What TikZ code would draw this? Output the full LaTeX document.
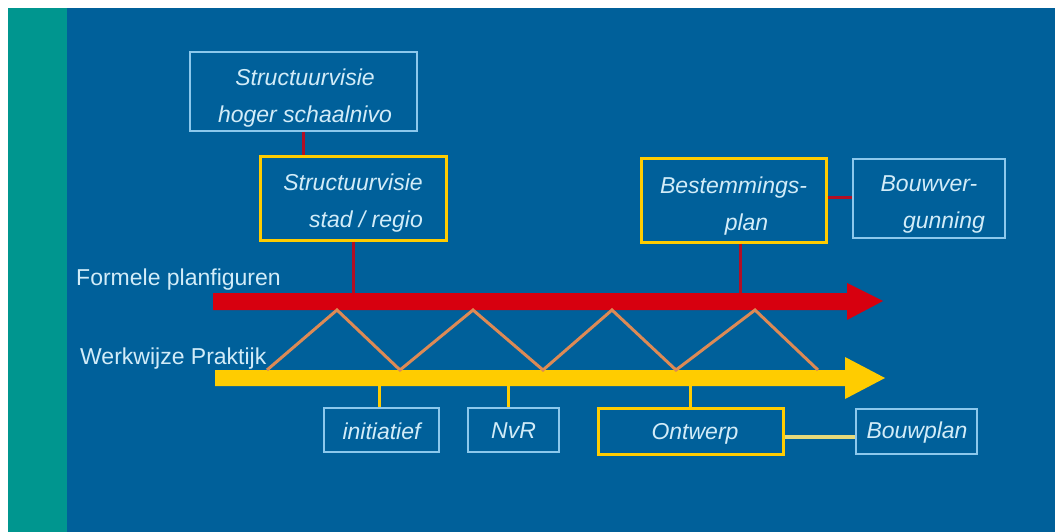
\documentclass[tikz,border=0pt]{standalone}
\usepackage{fontspec}
\setmainfont{Liberation Sans}
\definecolor{bgblue}{HTML}{00609A}
\definecolor{teal}{HTML}{00968F}
\definecolor{redline}{HTML}{D7000F}
\definecolor{darkred}{HTML}{B20F25}
\definecolor{yell}{HTML}{FFCC00}
\definecolor{lblue}{HTML}{8CC8EC}
\definecolor{txt}{HTML}{D2ECF8}
\definecolor{zig}{HTML}{DD8A55}
\definecolor{paleyell}{HTML}{E6DA7A}
\begin{document}
\begin{tikzpicture}[x=1pt,y=-1pt,
  boxtxt/.style={font=\fontsize{23}{37}\selectfont\itshape, text=txt, align=center, inner sep=0pt},
  bluebox/.style={draw=lblue, line width=2pt, fill=bgblue, rectangle, inner sep=0pt},
  yellbox/.style={draw=yell, line width=3pt, fill=bgblue, rectangle, inner sep=0pt},
  redconn/.style={draw=darkred, line width=3pt},
  yellconn/.style={draw=yell, line width=3pt},
  zigline/.style={draw=zig, line width=3pt, line join=miter},
  label/.style={font=\fontsize{23}{28}\selectfont, text=txt, inner sep=0pt, anchor=west}
]
\useasboundingbox (0,0) rectangle (1055,532);
\fill[white] (0,0) rectangle (1055,532);
\fill[teal] (8,8) rectangle (67,532);
\fill[bgblue] (67,8) rectangle (1055,532);

% arrows
\fill[redline] (213,293) -- (847,293) -- (847,283) -- (883,301) -- (847,320) -- (847,310) -- (213,310) -- cycle;
\fill[yell] (215,370) -- (845,370) -- (845,357) -- (885,378) -- (845,399) -- (845,386) -- (215,386) -- cycle;

% zigzag
\coordinate (z0) at (267,370);
\coordinate (z1) at (337,310);
\coordinate (z2) at (400,370);
\coordinate (z3) at (473,310);
\coordinate (z4) at (543,370);
\coordinate (z5) at (612,310);
\coordinate (z6) at (676,370);
\coordinate (z7) at (755,310);
\coordinate (z8) at (818,370);
\draw[zigline] (z0) -- (z1) -- (z2) -- (z3) -- (z4) -- (z5) -- (z6) -- (z7) -- (z8);

% labels
\node[label] (formele) at (76,280) {Formele planfiguren};
\node[label] (werkwijze) at (80,359) {Werkwijze Praktijk};

% top boxes
\node[bluebox, minimum width=227, minimum height=79] (svh) at (303.5,91.5) {};
\node[boxtxt] (svh-t) at (305,98) {Structuurvisie\\hoger schaalnivo};
\node[yellbox, minimum width=186, minimum height=83] (svs) at (353,198.5) {};
\node[boxtxt] (svs-t) at (353,203.5) {Structuurvisie\\\hspace*{26pt}stad / regio};
\node[yellbox, minimum width=185, minimum height=83] (bp) at (733.5,200.5) {};
\node[boxtxt] (bp-t) at (733.5,206) {Bestemmings-\\\hspace*{26pt}plan};
\node[bluebox, minimum width=152, minimum height=79] (bv) at (929,198.5) {};
\node[boxtxt] (bv-t) at (929,204) {Bouwver-\\\hspace*{30pt}gunning};

% bottom boxes
\node[bluebox, minimum width=115, minimum height=44] (ini) at (381.5,430) {};
\node[boxtxt] (ini-t) at (381.5,431) {initiatief};
\node[bluebox, minimum width=91, minimum height=44] (nvr) at (513.5,430) {};
\node[boxtxt] (nvr-t) at (513.5,431) {NvR};
\node[yellbox, minimum width=185, minimum height=46] (ont) at (690.5,431) {};
\node[boxtxt] (ont-t) at (695,434) {Ontwerp};
\node[bluebox, minimum width=121, minimum height=45] (bwp) at (916.5,431.5) {};
\node[boxtxt] (bwp-t) at (917,433) {Bouwplan};

% connectors top
\coordinate (r1) at (353,293);
\coordinate (r2) at (740,293);
\draw[redconn] (svh.south -| 303,0) -- (svs.north -| 303,0);
\draw[redconn] (svs.south) -- (r1);
\draw[redconn] (bp.south -| r2) -- (r2);
\draw[redconn] (bp.east |- 0,197) -- (bv.west |- 0,197);

% connectors bottom
\coordinate (y1) at (379,386);
\coordinate (y2) at (508,386);
\coordinate (y3) at (690,386);
\draw[yellconn] (y1) -- (ini.north -| y1);
\draw[yellconn] (y2) -- (nvr.north -| y2);
\draw[yellconn] (y3) -- (ont.north -| y3);
\draw[draw=paleyell, line width=3.5pt] (ont.east |- 0,437) -- (bwp.west |- 0,437);
\end{tikzpicture}
\end{document}
